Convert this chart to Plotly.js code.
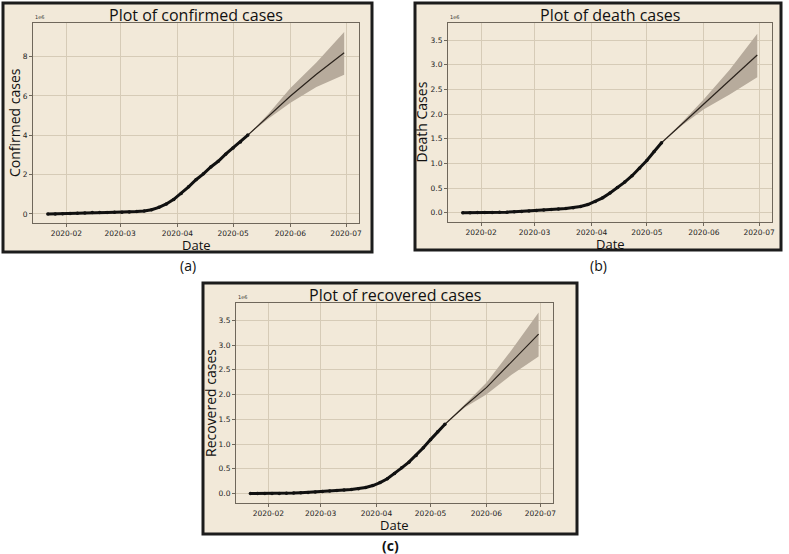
<!DOCTYPE html>
<html>
<head>
<meta charset="utf-8">
<script src="https://cdn.plot.ly/plotly-3.0.1.min.js"></script>
<style>html,body{margin:0;padding:0;background:#fff;}#chart{width:789px;height:554px;}</style>
</head>
<body>
<div id="chart"></div>
<script>
// Observed dates (every 4 days)
const obsDates = ["2020-01-22","2020-01-26","2020-01-30","2020-02-03","2020-02-07","2020-02-11","2020-02-15","2020-02-19","2020-02-23","2020-02-27","2020-03-02","2020-03-06","2020-03-10","2020-03-14","2020-03-18","2020-03-22","2020-03-26","2020-03-30","2020-04-03","2020-04-07","2020-04-11","2020-04-15","2020-04-19","2020-04-23","2020-04-27","2020-05-01","2020-05-05","2020-05-09"];
// Forecast dates
const fcDates = ["2020-05-09","2020-05-20","2020-06-01","2020-06-15","2020-06-30"];

// values in millions (axis offset 1e6)
const confirmedObs = [0.001,0.002,0.008,0.020,0.034,0.045,0.069,0.076,0.079,0.083,0.090,0.101,0.119,0.156,0.218,0.337,0.510,0.740,1.040,1.380,1.740,2.040,2.390,2.680,3.040,3.350,3.660,4.010];
const confirmedFc = [4.01,4.96,6.00,7.10,8.20];
const confirmedUp = [4.01,5.08,6.40,7.70,9.25];
const confirmedLo = [4.01,4.84,5.65,6.45,7.08];

const deathObs = [0.000,0.000,0.001,0.002,0.004,0.006,0.010,0.016,0.023,0.033,0.045,0.055,0.062,0.072,0.083,0.098,0.125,0.165,0.225,0.300,0.400,0.510,0.620,0.750,0.900,1.060,1.240,1.420];
const deathFc = [1.42,1.80,2.21,2.69,3.20];
const deathUp = [1.42,1.83,2.30,2.90,3.63];
const deathLo = [1.42,1.77,2.10,2.40,2.75];

const recoveredObs = [0.000,0.000,0.001,0.002,0.004,0.006,0.010,0.016,0.023,0.033,0.044,0.054,0.061,0.071,0.082,0.097,0.123,0.163,0.222,0.300,0.405,0.520,0.635,0.770,0.925,1.090,1.250,1.400];
const recoveredFc = [1.40,1.77,2.14,2.66,3.22];
const recoveredUp = [1.40,1.80,2.24,2.90,3.66];
const recoveredLo = [1.40,1.74,2.00,2.40,2.77];

const titles = ["Plot of confirmed cases","Plot of death cases","Plot of recovered cases"];
const yTitles = ["Confirmed cases","Death Cases","Recovered cases"];
const captions = ["(a)","(b)","<b>(c)</b>"];

const W = 789, H = 554;
const px = v => v / W, py = v => 1 - v / H;

const BG = "#f2e9d9";
const BAND = "#b7ab9c";
const GRID = "#d6cbb7";
const AXL = "#6f675b";

const panels = [
  {obs: confirmedObs, fc: confirmedFc, up: confirmedUp, lo: confirmedLo,
   plot: [33, 359, 23, 223], frame: [3, 372, 3, 252], yr: [-0.46, 9.71], yt: [0,2,4,6,8], yf: "d",
   titleY: 15, dateY: 245, yTitleX: 14, capY: 265},
  {obs: deathObs, fc: deathFc, up: deathUp, lo: deathLo,
   plot: [448, 772, 23, 222], frame: [415, 781, 3, 250], yr: [-0.19, 3.85], yt: [0,0.5,1,1.5,2,2.5,3,3.5], yf: ".1f",
   titleY: 15, dateY: 244, yTitleX: 421, capY: 265},
  {obs: recoveredObs, fc: recoveredFc, up: recoveredUp, lo: recoveredLo,
   plot: [236, 553, 303, 503], frame: [203, 577, 283, 534], yr: [-0.19, 3.85], yt: [0,0.5,1,1.5,2,2.5,3,3.5], yf: ".1f",
   titleY: 295, dateY: 525, yTitleX: 210, capY: 545}
];

const data = [];
const layout = {
  width: W, height: H,
  margin: {l: 0, r: 0, t: 0, b: 0},
  paper_bgcolor: "#ffffff",
  plot_bgcolor: BG,
  showlegend: false,
  shapes: [],
  annotations: []
};

panels.forEach((p, i) => {
  const n = i === 0 ? "" : String(i + 1);
  const xa = "x" + n, ya = "y" + n;
  data.push({x: fcDates, y: p.lo, xaxis: xa, yaxis: ya, type: "scatter", mode: "lines",
    line: {width: 0, color: BAND}, hoverinfo: "skip"});
  data.push({x: fcDates, y: p.up, xaxis: xa, yaxis: ya, type: "scatter", mode: "lines",
    fill: "tonexty", fillcolor: BAND, line: {width: 0, color: BAND}, hoverinfo: "skip"});
  data.push({x: fcDates, y: p.fc, xaxis: xa, yaxis: ya, type: "scatter", mode: "lines",
    line: {width: 1.2, color: "#2a221b"}});
  data.push({x: obsDates, y: p.obs, xaxis: xa, yaxis: ya, type: "scatter", mode: "lines+markers",
    line: {width: 3, color: "#111111"}, marker: {size: 3.5, color: "#111111"}});

  const tickFont = {family: "DejaVu Sans", size: 7.5, color: "#222"};
  layout["xaxis" + n] = {
    domain: [px(p.plot[0]), px(p.plot[1])],
    anchor: ya,
    type: "date",
    range: ["2020-01-14", "2020-07-08"],
    dtick: "M1", tick0: "2020-02-01", tickformat: "%Y-%m",
    showgrid: true, gridcolor: GRID, gridwidth: 1,
    showline: true, mirror: true, linecolor: AXL, linewidth: 1,
    ticks: "outside", ticklen: 3, tickcolor: AXL,
    tickfont: tickFont, zeroline: false, fixedrange: true
  };
  layout["yaxis" + n] = {
    domain: [py(p.plot[3]), py(p.plot[2])],
    anchor: xa,
    range: p.yr,
    tickvals: p.yt, tickformat: p.yf,
    showgrid: true, gridcolor: GRID, gridwidth: 1,
    showline: true, mirror: true, linecolor: AXL, linewidth: 1,
    ticks: "outside", ticklen: 3, tickcolor: AXL,
    tickfont: tickFont, zeroline: false, fixedrange: true
  };

  layout.shapes.push({type: "rect", xref: "paper", yref: "paper", layer: "below",
    x0: px(p.frame[0]), x1: px(p.frame[1]), y0: py(p.frame[3]), y1: py(p.frame[2]),
    fillcolor: BG, line: {color: "#1c1c1c", width: 3}});

  const cx = (p.plot[0] + p.plot[1]) / 2;
  layout.annotations.push({text: titles[i], xref: "paper", yref: "paper", x: px(cx), y: py(p.titleY),
    xanchor: "center", yanchor: "middle", showarrow: false,
    font: {family: "Open Sans", size: 16, color: "#111"}});
  layout.annotations.push({text: "Date", xref: "paper", yref: "paper", x: px(cx), y: py(p.dateY),
    xanchor: "center", yanchor: "middle", showarrow: false,
    font: {family: "Open Sans", size: 13, color: "#111"}});
  layout.annotations.push({text: yTitles[i], xref: "paper", yref: "paper", x: px(p.yTitleX), y: py((p.plot[2] + p.plot[3]) / 2),
    xanchor: "center", yanchor: "middle", showarrow: false, textangle: -90,
    font: {family: "Open Sans", size: 14, color: "#111"}});
  layout.annotations.push({text: "1e6", xref: "paper", yref: "paper", x: px(p.plot[0]), y: py(p.plot[2] - 1),
    xanchor: "left", yanchor: "bottom", showarrow: false,
    font: {family: "DejaVu Sans", size: 5, color: "#333"}});
  layout.annotations.push({text: captions[i], xref: "paper", yref: "paper",
    x: px((p.frame[0] + p.frame[1]) / 2), y: py(p.capY),
    xanchor: "center", yanchor: "middle", showarrow: false,
    font: {family: "Open Sans", size: 14, color: "#111"}});
});

Plotly.newPlot("chart", data, layout, {staticPlot: true, displayModeBar: false});
</script>
</body>
</html>
